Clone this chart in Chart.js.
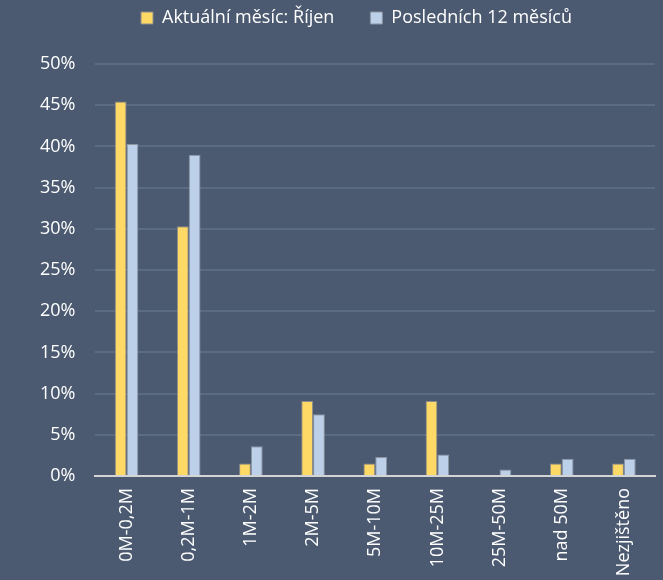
<!DOCTYPE html>
<html>
<head>
<meta charset="utf-8">
<script src="https://cdn.jsdelivr.net/npm/chart.js@4"></script>
<style>
  html, body { margin: 0; padding: 0; background: #4b5a70; }
  #wrap { width: 663px; height: 580px; position: relative; }
</style>
</head>
<body>
<div id="wrap"><canvas id="chart"></canvas></div>
<script>
// chart data
const categories = ['0M-0,2M', '0,2M-1M', '1M-2M', '2M-5M', '5M-10M', '10M-25M', '25M-50M', 'nad 50M', 'Nezjištěno'];
const currentMonth = [45.45, 30.3, 1.52, 9.09, 1.52, 9.09, 0, 1.52, 1.52];
const last12Months = [40.3, 39.0, 3.6, 7.5, 2.3, 2.6, 0.8, 2.1, 2.1];
const yTicks = [0, 5, 10, 15, 20, 25, 30, 35, 40, 45, 50];

const textColor = '#ffffff';
const font = { family: 'Open Sans', size: 18 };

// extra room below the legend, and nudge the legend a little to the right
const legendGap = {
    id: 'legendGap',
    beforeInit(chart) {
        const fit = chart.legend.fit;
        chart.legend.fit = function () {
            fit.bind(chart.legend)();
            this.height += 27;
            if (this.lineWidths && this.lineWidths.length) this.lineWidths[0] -= 38;
        };
    }
};

new Chart(document.getElementById('chart'), {
    type: 'bar',
    data: {
        labels: categories,
        datasets: [{
            label: 'Aktuální měsíc: Říjen',
            data: currentMonth,
            backgroundColor: '#ffd966',
            borderColor: '#8c8c8c',
            borderWidth: 1
        }, {
            label: 'Posledních 12 měsíců',
            data: last12Months,
            backgroundColor: '#bdd0e9',
            borderColor: '#8c94a0',
            borderWidth: 1
        }]
    },
    options: {
        responsive: true,
        maintainAspectRatio: false,
        animation: false,
        layout: { padding: { left: 20, right: 8, top: -27, bottom: 0 } },
        datasets: {
            bar: { categoryPercentage: 0.38, barPercentage: 1.0 }
        },
        plugins: {
            legend: {
                position: 'top',
                labels: {
                    color: textColor,
                    font: font,
                    boxWidth: 12,
                    boxHeight: 12,
                    padding: 36
                }
            },
            tooltip: { enabled: false }
        },
        scales: {
            x: {
                grid: { display: false },
                border: { color: '#d4d4d4', width: 2 },
                afterFit: axis => { axis.height = 104; },
                ticks: {
                    color: textColor,
                    font: font,
                    minRotation: 90,
                    maxRotation: 90,
                    padding: 4
                }
            },
            y: {
                min: 0,
                max: 50,
                afterBuildTicks: axis => { axis.ticks = yTicks.map(v => ({ value: v })); },
                grid: { color: '#5b6b84', lineWidth: 2, drawTicks: false },
                border: { display: false },
                ticks: {
                    color: textColor,
                    font: font,
                    padding: 20,
                    callback: v => v + '%'
                }
            }
        }
    },
    plugins: [legendGap]
});
</script>
</body>
</html>
